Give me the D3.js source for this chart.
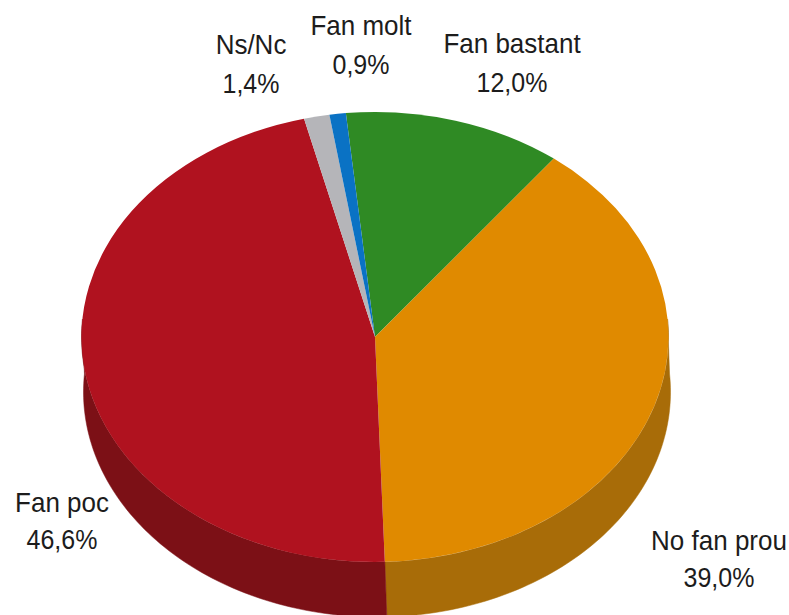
<!DOCTYPE html>
<html><head><meta charset="utf-8">
<script src="https://cdn.jsdelivr.net/npm/d3@7"></script>
<style>html,body{margin:0;padding:0;background:#fff;overflow:hidden}</style>
</head><body><svg id="c" width="789" height="615"></svg>
<script>
const categories=["Fan bastant","No fan prou","Fan poc","Ns/Nc","Fan molt"];
const values=[12.0,39.0,46.6,1.4,0.9];
const valueLabels=["12,0%","39,0%","46,6%","1,4%","0,9%"];
const colors=["#2f8a24","#e08a00","#b0121f","#b5b5b9","#0a72c4"];
const wallColors=["#1f5c18","#a86c08","#7c1016","#7f7f82","#074f88"];
const labelPos=[[512,53],[719,550],[62,512],[251,54],[361,35]];
const lineGap=[39,37,37,39,39];

const W=789,H=615,cx=375,cy=337,rx=293.5,ry=225,depth=55,dx=2;
const svg=d3.select("#c");
const start=-5.7*Math.PI/180;
const arcs=d3.pie().sort(null).startAngle(start).endAngle(start+2*Math.PI)(values);
const arc=d3.arc().innerRadius(0).outerRadius(ry);
const sx=rx/ry;
const pt=(a,ox,oy)=>[cx+ox+rx*Math.sin(a),cy+oy-ry*Math.cos(a)];

// side wall: only the part of each slice on the front half
const line=d3.line();
arcs.forEach((d,i)=>{
  const a0=Math.max(d.startAngle,Math.PI/2-0.08), a1=Math.min(d.endAngle,3*Math.PI/2+0.08);
  if(a1<=a0) return;
  const s=d3.scaleLinear().domain([0,80]).range([a0,a1]);
  const t=d3.range(81).map(s);
  const pts=t.map(a=>pt(a,0,0)).concat(t.slice().reverse().map(a=>pt(a,dx,depth)));
  svg.append("path").attr("d",line(pts)+"Z").attr("fill",wallColors[i]).attr("stroke",wallColors[i]).attr("stroke-width",0.5);
});

// top face
svg.append("g").attr("transform",`translate(${cx},${cy}) scale(${sx},1)`)
  .selectAll("path").data(arcs).join("path")
  .attr("d",arc).attr("fill",(d,i)=>colors[i]);

// labels
const lab=svg.append("g").attr("font-family","'Liberation Sans',Arial,sans-serif").attr("font-size",26).attr("fill","#1c1c1c").attr("text-anchor","middle");
categories.forEach((c,i)=>{
  const [x,y]=labelPos[i];
  const sy=1.08;
  lab.append("text").attr("transform",`translate(${x},${y}) scale(1,${sy})`).text(c);
  lab.append("text").attr("transform",`translate(${x},${y+lineGap[i]}) scale(1,${sy})`).attr("font-size",25).text(valueLabels[i]);
});
</script></body></html>
